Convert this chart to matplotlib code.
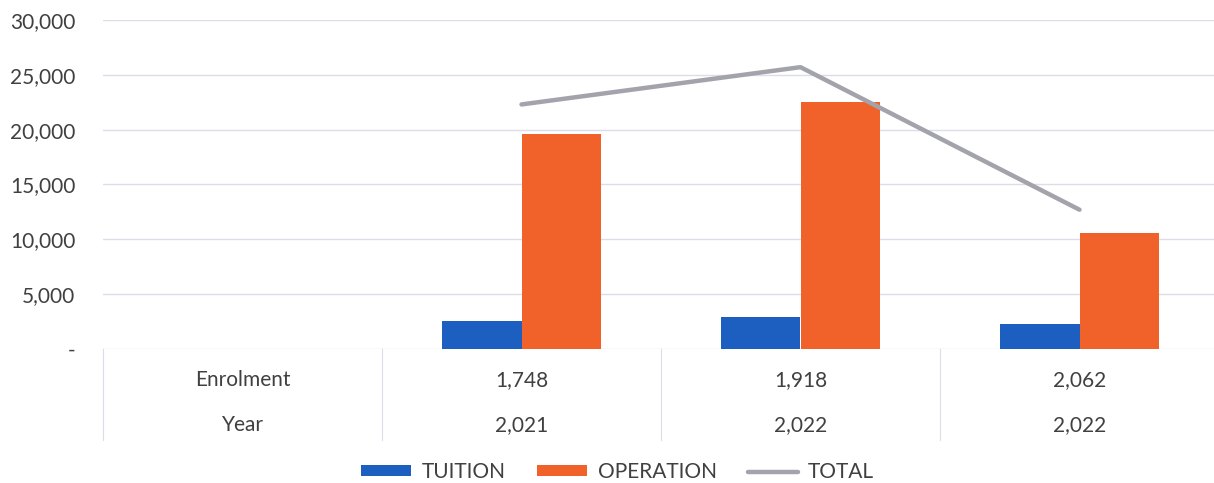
import numpy as np
import matplotlib.pyplot as plt
from matplotlib.ticker import FuncFormatter

plt.rcParams['font.family'] = ['Lato', 'DejaVu Sans']

enrolment = ['', '1,748', '1,918', '2,062']
years = ['', '2,021', '2,022', '2,022']
tuition = [np.nan, 2550, 2920, 2310]
operation = [np.nan, 19600, 22500, 10550]
total = [np.nan, 22300, 25700, 12700]

text_col = '#404040'
grid_col = '#dcdcea'
fs = 15

fig = plt.figure(figsize=(12.14, 4.83), dpi=100)
# plot area runs a little past the right edge of the figure
ax = fig.add_axes([103 / 1214, 1 - 349 / 483, 1116 / 1214, 329 / 483])

x = np.arange(len(years))
w = 0.285
b1 = ax.bar(x - w / 2, tuition, w, color='#1c5fc0', label='TUITION', zorder=2)
b2 = ax.bar(x + w / 2, operation, w, color='#f0622a', label='OPERATION', zorder=2)
ln, = ax.plot(x, total, color='#a3a3ab', lw=3.2, solid_capstyle='round', label='TOTAL', zorder=3)

ax.set_xlim(-0.5, len(years) - 0.5)
ax.set_ylim(0, 30000)
ax.set_yticks(np.arange(0, 30001, 5000))
ax.yaxis.set_major_formatter(FuncFormatter(lambda v, p: '-' if v == 0 else f'{v:,.0f}'))
ax.tick_params(axis='y', length=0, pad=20, labelsize=fs, labelcolor=text_col)
ax.set_xticks([])
ax.grid(axis='y', color=grid_col, lw=1, zorder=0)
for s in ax.spines.values():
    s.set_visible(False)

# category table under the plot
tr = ax.get_xaxis_transform()
for b in np.arange(-0.5, len(years) - 0.5):
    ax.plot([b, b], [0, -0.277], transform=tr, color=grid_col, lw=0.8, clip_on=False)
ax.text(0, -0.094, 'Enrolment', transform=tr, ha='center', va='center', fontsize=fs, color=text_col)
ax.text(0, -0.231, 'Year', transform=tr, ha='center', va='center', fontsize=fs, color=text_col)
for i in range(1, len(years)):
    ax.text(i, -0.094, enrolment[i], transform=tr, ha='center', va='center', fontsize=fs, color=text_col)
    ax.text(i, -0.231, years[i], transform=tr, ha='center', va='center', fontsize=fs, color=text_col)

fig.legend([b1, b2, ln], ['TUITION', 'OPERATION', 'TOTAL'], loc='center',
           bbox_to_anchor=(0.509, 1 - 472 / 483), ncol=3, frameon=False,
           fontsize=fs, labelcolor=text_col, handlelength=2.4, handleheight=0.4,
           columnspacing=1.5, handletextpad=0.5)

fig.savefig('out.png', dpi=100)
